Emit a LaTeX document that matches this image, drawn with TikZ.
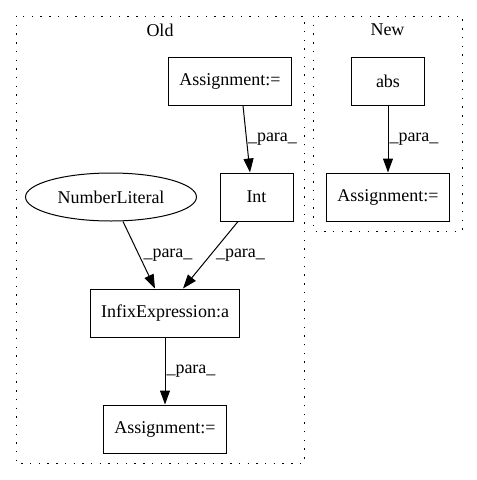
\documentclass[tikz,border=0pt]{standalone}
\usepackage{fontspec}
\setmainfont{Liberation Serif}
\usetikzlibrary{arrows.meta,shapes.geometric}

\tikzset{
  box/.style={draw, rectangle, line width=1pt, minimum width=73pt, minimum height=48pt, inner xsep=11pt, font=\fontsize{18}{21}\selectfont},
  oval/.style={draw, ellipse, line width=1pt, minimum width=171pt, minimum height=48pt, inner sep=0pt, font=\fontsize{18}{21}\selectfont},
  cluster/.style={line width=1pt, dash pattern=on 1.4pt off 7.3pt},
  title/.style={font=\fontsize{18}{21}\selectfont},
  arr/.style={line width=1pt, -{Triangle[length=14pt,width=10pt]}},
  lbl/.style={anchor=west, inner sep=1pt, font=\fontsize{18}{21}\selectfont}
}

\begin{document}
\begin{tikzpicture}[x=1pt, y=-1pt]
    \useasboundingbox (0,0) rectangle (477,480);
    % clusters
    \draw[cluster] (16,16) rectangle (304,463);
    \node[title] (old) at (160,30) {Old};
    \draw[cluster] (313,16) rectangle (462,231);
    \node[title] (new) at (387.5,30) {New};
    % old side
    \node[box] (asgold) at (230,81) {Assignment:=};
    \node[box] (int) at (256.5,197) {Int};
    \node[oval] (numlit) at (111,197) {NumberLiteral};
    \node[box] (infix) at (165,313) {InfixExpression:a};
    \node[box] (asgres) at (165,429) {Assignment:=};
    % new side
    \node[box] (abs) at (388,81) {abs};
    \node[box] (asgnew) at (388,197) {Assignment:=};
    % edges
    \draw[arr] ([xshift=13pt]asgold.south) -- ([xshift=-6.5pt]int.north) node[lbl, midway] {\_para\_};
    \draw[arr] ([xshift=12pt]numlit.south) -- ([xshift=-10pt]infix.north) node[lbl, midway, xshift=3pt] {\_para\_};
    \draw[arr] ([xshift=-18.5pt]int.south) -- ([xshift=18pt]infix.north) node[lbl, midway, xshift=4pt] {\_para\_};
    \draw[arr] (infix) -- (asgres) node[lbl, midway] {\_para\_};
    \draw[arr] (abs) -- (asgnew) node[lbl, midway] {\_para\_};
\end{tikzpicture}
\end{document}
